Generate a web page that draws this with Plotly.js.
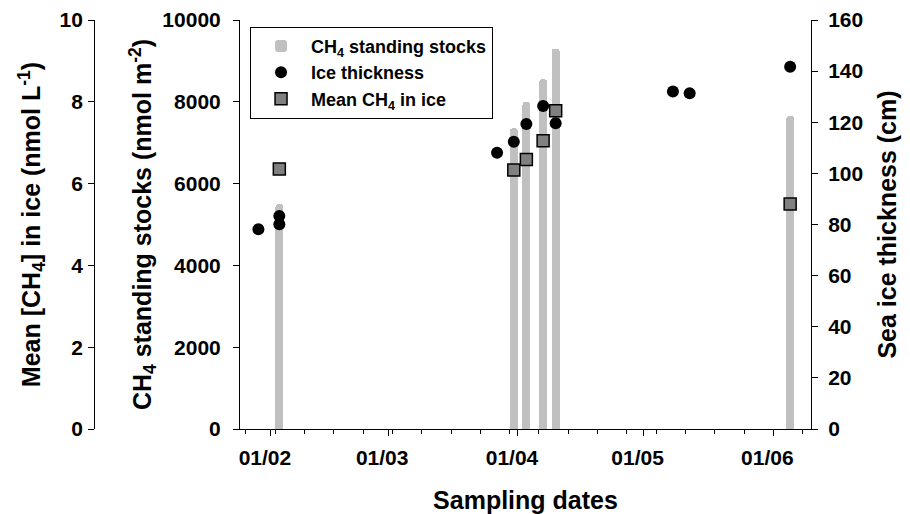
<!DOCTYPE html>
<html>
<head>
<meta charset="utf-8">
<script src="https://cdn.plot.ly/plotly-3.0.1.min.js"></script>
<style>html,body{margin:0;padding:0;background:#fff;}#chart{width:910px;height:514px;}</style>
</head>
<body>
<div id="chart"></div>
<script>
// CH4 standing stocks (nmol m-2)
const stockDates = ['2015-02-03','2015-03-31','2015-04-03','2015-04-07','2015-04-10','2015-06-05'];
const stockValues = [5500, 7350, 8000, 8550, 9300, 7650];
// Sea ice thickness (cm)
const iceDates = ['2015-01-29','2015-02-03','2015-02-03','2015-03-27','2015-03-31','2015-04-03','2015-04-07','2015-04-10','2015-05-08','2015-05-12','2015-06-05'];
const iceValues = [78.1, 83.3, 80.1, 108.1, 112.4, 119.3, 126.4, 119.6, 132.0, 131.3, 141.7];
// Mean CH4 in ice (nmol L-1)
const ch4Dates = ['2015-02-03','2015-03-31','2015-04-03','2015-04-07','2015-04-10','2015-06-05'];
const ch4Values = [6.36, 6.33, 6.59, 7.05, 7.78, 5.50];

const FONT = 'Liberation Sans, Arial, sans-serif';
const DAY = 86400000;

const traces = [
  {type:'bar', name:'CH<sub>4</sub> standing stocks', x:stockDates, y:stockValues, yaxis:'y',
   width: stockDates.map(()=>1.85*DAY), marker:{color:'#c0c0c0', cornerradius:4, line:{width:0}}},
  {type:'scatter', mode:'markers', name:'Ice thickness', x:iceDates, y:iceValues, yaxis:'y3',
   marker:{symbol:'circle', size:12, color:'#000'}},
  {type:'scatter', mode:'markers', name:'Mean CH<sub>4</sub> in ice', x:ch4Dates, y:ch4Values, yaxis:'y2',
   marker:{symbol:'square', size:12, color:'#808080', line:{color:'#000', width:1.5}}}
];

const titleFont = {family:FONT, size:25, color:'#000', weight:'bold'};
const axisCommon = {showgrid:false, zeroline:false, showline:true, linecolor:'#000', linewidth:1,
  ticks:'outside', ticklen:6, tickcolor:'#000', tickwidth:1,
  tickfont:{family:FONT, size:21, color:'#000', weight:'bold'}};

const layout = {
  width:910, height:514,
  margin:{l:10, r:10, t:20, b:85},
  paper_bgcolor:'#fff', plot_bgcolor:'#fff',
  font:{family:FONT, color:'#000', weight:'bold'},
  showlegend:true,
  bargap:0,
  legend:{x:0.2697, y:0.9836, xanchor:'left', yanchor:'top', bgcolor:'#fff',
    bordercolor:'#000', borderwidth:1, itemwidth:50,
    font:{family:FONT, size:18, color:'#000', weight:'bold'},
    traceorder:'normal'},
  xaxis: Object.assign({}, axisCommon, {
    type:'date', domain:[0.2584, 0.9], range:['2015-01-24 14:24','2015-06-09 23:30'],
    tick0:'2015-02-01', dtick:'M1', tickformat:'%d/%m', ticklabelshift:-6, ticklabelstandoff:4,
    minor:{dtick:7*DAY, tick0:'2015-01-26', ticks:'outside', ticklen:4, tickcolor:'#000', showgrid:false},
    title:{text:'Sampling dates', font:titleFont, standoff:24}
  }),
  yaxis: Object.assign({}, axisCommon, {
    range:[0,10000], dtick:2000, tick0:0, tickformat:'d', ticklabelstandoff:8,
    title:{text:'CH<sub>4</sub> standing stocks (nmol m<sup>-2</sup>)', font:titleFont, standoff:3}
  }),
  yaxis2: Object.assign({}, axisCommon, {
    range:[0,10], dtick:2, tick0:0, tickformat:'d', overlaying:'y', anchor:'free', position:0.0944, side:'left',
    ticklabelstandoff:1,
    title:{text:'Mean [CH<sub>4</sub>] in ice (nmol L<sup>-1</sup>)', font:titleFont, standoff:10}
  }),
  yaxis3: Object.assign({}, axisCommon, {
    range:[0,160], dtick:20, tick0:0, tickformat:'d', overlaying:'y', anchor:'x', side:'right',
    ticklabelstandoff:6,
    title:{text:'Sea ice thickness (cm)', font:titleFont, standoff:16}
  })
};

Plotly.newPlot('chart', traces, layout, {displayModeBar:false, staticPlot:true});
</script>
</body>
</html>
